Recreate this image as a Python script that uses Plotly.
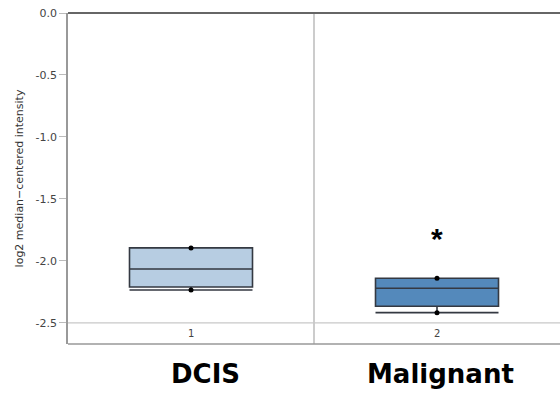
import plotly.graph_objects as go

categories = [1, 2]
tick_labels = ["1", "2"]
group_names = ["DCIS", "Malignant"]
q1 = [-2.21, -2.365]
median = [-2.065, -2.22]
q3 = [-1.895, -2.14]
lowerfence = [-2.234, -2.417]
upperfence = [-1.895, -2.14]
point_max = [-1.895, -2.14]
point_min = [-2.234, -2.417]
fills = ["#b7cde2", "#5489bb"]

fig = go.Figure()
for i, c in enumerate(categories):
    fig.add_trace(go.Box(
        x=[c], q1=[q1[i]], median=[median[i]], q3=[q3[i]],
        lowerfence=[lowerfence[i]], upperfence=[upperfence[i]],
        width=0.5, whiskerwidth=1, fillcolor=fills[i],
        line=dict(color="#343942", width=1.6), boxpoints=False,
        showlegend=False, hoverinfo="skip"))
    fig.add_trace(go.Scatter(
        x=[c, c], y=[point_max[i], point_min[i]], mode="markers",
        marker=dict(color="black", size=5), showlegend=False, hoverinfo="skip"))

# separator lines
fig.add_shape(type="line", xref="x", yref="paper", x0=1.5, x1=1.5, y0=0, y1=1,
              line=dict(color="#aaaaaa", width=1.2))
fig.add_shape(type="line", xref="paper", yref="y", x0=0, x1=1, y0=-2.5, y1=-2.5,
              line=dict(color="#c8c8c8", width=1.2))
fig.add_shape(type="line", xref="paper", yref="paper", x0=0, x1=1, y0=1, y1=1,
              line=dict(color="#666666", width=2))
fig.add_shape(type="line", xref="paper", yref="paper", x0=0, x1=1, y0=0, y1=0,
              line=dict(color="#999999", width=1.5))

for c, t in zip(categories, tick_labels):
    fig.add_annotation(x=c, y=-2.585, xref="x", yref="y", text=t, showarrow=False,
                       font=dict(family="DejaVu Sans", size=10, color="#444444"))

# asterisk
fig.add_annotation(x=2, y=-1.815, xref="x", yref="y", text="<b>*</b>", showarrow=False,
                   font=dict(family="Liberation Sans", size=30, color="black"))

label_x = [205, 440]
for lx, name in zip(label_x, group_names):
    fig.add_annotation(x=(lx - 68) / 492, y=-0.09, xref="paper", yref="paper",
                       text="<b>" + name + "</b>", showarrow=False,
                       xanchor="center", yanchor="middle",
                       font=dict(family="DejaVu Sans", size=26, color="black"))

fig.update_layout(
    width=560, height=398,
    margin=dict(l=68, r=0, t=13, b=54),
    plot_bgcolor="white", paper_bgcolor="white",
    xaxis=dict(range=[0.5, 2.5], showticklabels=False, showgrid=False, zeroline=False,
               showline=False, fixedrange=True),
    yaxis=dict(range=[-2.67, 0.0], tickvals=[0, -0.5, -1.0, -1.5, -2.0, -2.5],
               ticktext=["0.0", "-0.5", "-1.0", "-1.5", "-2.0", "-2.5"],
               automargin=False,
               showgrid=False, zeroline=False, showline=True, linecolor="#999999",
               linewidth=1.5, ticks="outside", ticklen=7, tickcolor="#bbbbbb",
               tickfont=dict(family="DejaVu Sans", size=11, color="#444444"),
               title=dict(text="log2 median−centered intensity",
                          font=dict(family="DejaVu Sans", size=11, color="#333333"),
                          standoff=10)),
)
fig.write_html("out.html", config={"displayModeBar": False},
               post_script="document.body.style.margin='0px';")
